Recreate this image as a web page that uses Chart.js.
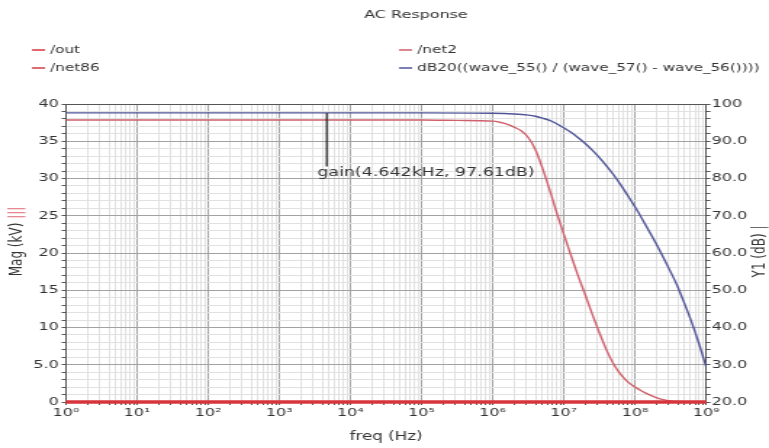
<!DOCTYPE html>
<html>
<head>
<meta charset="utf-8">
<title>AC Response</title>
<script src="https://cdn.jsdelivr.net/npm/chart.js@4.4.1/dist/chart.umd.min.js"></script>
<style>
  html, body { margin: 0; padding: 0; background: #fff; overflow: hidden; }
  /* the original screenshot is stretched sideways, so draw narrow and widen it */
  #acChart { display: block; width: 769px !important; height: 448px !important; }
</style>
</head>
<body>
<canvas id="acChart" width="530" height="448"></canvas>
<script>
const seriesNames = ['/out', '/net86', '/net2', 'dB20((wave_55() / (wave_57() - wave_56())))'];
const seriesColors = ['#d8343c', '#d23a44', '#cf5f6a', '#4f5597'];

// /out and /net86 sit at zero over the whole sweep (Mag axis, kV)
const flatFreq = [1, 1e9];
const outMag = [0, 0];
const net86Mag = [0, 0];

// /net2 magnitude (kV)
const net2Freq = [1, 1e5, 3.16e5, 1e6, 1.26e6, 1.58e6, 2e6, 2.51e6, 3.16e6, 3.98e6, 5.01e6, 6.31e6, 7.94e6,
  1e7, 1.26e7, 1.58e7, 2e7, 2.51e7, 3.16e7, 3.98e7, 5.01e7, 6.31e7, 7.94e7,
  1e8, 1.26e8, 1.58e8, 2e8, 2.51e8, 3.16e8, 3.98e8, 6.31e8, 1e9];
const net2Mag = [37.85, 37.85, 37.8, 37.7, 37.55, 37.3, 36.9, 36.4, 35.5, 33.9, 31.4, 28.5, 25.4,
  22.5, 19.7, 17.0, 14.4, 11.8, 9.3, 7.0, 5.1, 3.7, 2.7,
  2.0, 1.45, 1.0, 0.6, 0.32, 0.15, 0.06, 0.01, 0];

// gain in dB (Y1 axis)
const gainFreq = [1, 1e5, 1e6, 2e6, 3.16e6, 3.98e6, 5.01e6, 6.31e6, 7.94e6,
  1e7, 1.26e7, 1.58e7, 2e7, 2.51e7, 3.16e7, 3.98e7, 5.01e7, 6.31e7, 7.94e7,
  1e8, 1.26e8, 1.58e8, 2e8, 2.51e8, 3.16e8, 3.98e8, 5.01e8, 6.31e8, 7.94e8, 1e9];
const gainDb = [97.61, 97.61, 97.5, 97.3, 97.0, 96.7, 96.2, 95.6, 94.7,
  93.6, 92.4, 91.0, 89.4, 87.6, 85.6, 83.4, 81.0, 78.3, 75.4,
  72.4, 69.2, 65.9, 62.4, 58.8, 55.0, 51.0, 46.3, 41.3, 35.7, 29.5];

// axes
const freqDecades = [1, 10, 1e2, 1e3, 1e4, 1e5, 1e6, 1e7, 1e8, 1e9];
const freqTickLabels = ['10⁰', '10¹', '10²', '10³', '10⁴', '10⁵', '10⁶', '10⁷', '10⁸', '10⁹'];
const magTickValues = [0, 5, 10, 15, 20, 25, 30, 35, 40];
const magTickLabels = ['0', '5.0', '10', '15', '20', '25', '30', '35', '40'];
const dbTickValues = [20, 30, 40, 50, 60, 70, 80, 90, 100];
const dbTickLabels = ['20.0', '30.0', '40.0', '50.0', '60.0', '70.0', '80.0', '90.0', '100'];

// marker placed on the gain curve
const markerLabel = 'gain(4.642kHz, 97.61dB)';
const markerFreq = 4642;
const markerDb = 97.61;
const markerStemEndDb = 83.2;

const inkColor = '#333';
const majorGrid = '#a2a2a2';
const minorGrid = '#e1e1e1';
const axisLine = '#555';
const axisFont = { family: 'DejaVu Sans', size: 11 };

function toPoints(xs, ys) {
  return xs.map((x, i) => ({ x: x, y: ys[i] }));
}

function logMinorTicks() {
  const out = [];
  for (let e = 0; e < 9; e++) {
    for (let d = 1; d <= 9; d++) out.push({ value: d * Math.pow(10, e) });
  }
  out.push({ value: 1e9 });
  return out;
}

function stepTicks(from, to, step) {
  const out = [];
  for (let v = from; v <= to + 1e-9; v += step) out.push({ value: v });
  return out;
}

function drawRotated(ctx, x, y, parts, font) {
  ctx.save();
  ctx.font = font;
  ctx.translate(x, y);
  ctx.rotate(-Math.PI / 2);
  ctx.textBaseline = 'middle';
  ctx.textAlign = 'left';
  const total = parts.reduce((w, p) => w + ctx.measureText(p.text).width, 0);
  let cx = -total / 2;
  parts.forEach(p => {
    ctx.fillStyle = p.color;
    ctx.fillText(p.text, cx, 0);
    cx += ctx.measureText(p.text).width;
  });
  ctx.restore();
}

const decorations = {
  id: 'decorations',
  afterDatasetsDraw(chart) {
    const ctx = chart.ctx;
    const x = chart.scales.x.getPixelForValue(markerFreq);
    const yTop = chart.scales.y1.getPixelForValue(markerDb);
    const yEnd = chart.scales.y1.getPixelForValue(markerStemEndDb);
    ctx.save();
    ctx.strokeStyle = '#2a2a2a';
    ctx.lineWidth = 1.3;
    ctx.beginPath();
    ctx.moveTo(x, yTop);
    ctx.lineTo(x, yEnd);
    ctx.stroke();
    ctx.font = '12px "DejaVu Sans"';
    ctx.fillStyle = inkColor;
    ctx.textBaseline = 'middle';
    ctx.fillText(markerLabel, x - 6.5, yEnd + 6.6);
    ctx.restore();
  },
  afterDraw(chart) {
    const ctx = chart.ctx;
    ctx.save();
    ctx.fillStyle = inkColor;
    ctx.font = '11px "DejaVu Sans"';
    ctx.textAlign = 'center';
    ctx.textBaseline = 'middle';
    ctx.fillText('AC Response', 286.7, 15);

    // legend, two columns of two
    const slots = [[22, 50], [22, 68], [275, 50], [275, 68]];
    ctx.font = '10.5px "DejaVu Sans"';
    ctx.textAlign = 'left';
    chart.data.datasets.forEach((ds, i) => {
      const [lx, ly] = slots[i];
      ctx.strokeStyle = ds.borderColor;
      ctx.lineWidth = 1.5;
      ctx.beginPath();
      ctx.moveTo(lx, ly);
      ctx.lineTo(lx + 9, ly);
      ctx.stroke();
      ctx.fillStyle = inkColor;
      ctx.fillText(ds.label, lx + 12.5, ly);
    });
    ctx.restore();

    drawRotated(ctx, 12, 241.5, [
      { text: 'Mag (kV) ', color: inkColor },
      { text: '|||', color: '#e06a78' }
    ], '12px "DejaVu Sans"');
    drawRotated(ctx, 524, 251.5, [
      { text: 'Y1 (dB) ', color: inkColor },
      { text: '|', color: '#666' }
    ], '12px "DejaVu Sans"');
  }
};

const ctx = document.getElementById('acChart').getContext('2d');

new Chart(ctx, {
  type: 'line',
  data: {
    datasets: [
      { label: seriesNames[0], data: toPoints(flatFreq, outMag), yAxisID: 'y',
        borderColor: seriesColors[0], borderWidth: 3, clip: false },
      { label: seriesNames[1], data: toPoints(flatFreq, net86Mag), yAxisID: 'y',
        borderColor: seriesColors[1], borderWidth: 3, clip: false },
      { label: seriesNames[2], data: toPoints(net2Freq, net2Mag), yAxisID: 'y',
        borderColor: seriesColors[2], borderWidth: 1.4 },
      { label: seriesNames[3], data: toPoints(gainFreq, gainDb), yAxisID: 'y1',
        borderColor: seriesColors[3], borderWidth: 1.4 }
    ]
  },
  options: {
    responsive: false,
    animation: false,
    devicePixelRatio: 1,
    layout: { padding: { top: 104, left: 0, right: 0, bottom: 0 } },
    elements: {
      point: { radius: 0 },
      line: { cubicInterpolationMode: 'monotone' }
    },
    plugins: {
      legend: { display: false },
      tooltip: { enabled: false }
    },
    scales: {
      x: {
        type: 'logarithmic',
        min: 1,
        max: 1e9,
        afterBuildTicks: s => { s.ticks = logMinorTicks(); },
        afterFit: s => { s.height = 46; },
        ticks: {
          autoSkip: false, maxRotation: 0, minRotation: 0, padding: 2,
          font: axisFont, color: inkColor,
          callback: v => {
            const i = freqDecades.indexOf(v);
            return i >= 0 ? freqTickLabels[i] : '';
          }
        },
        grid: {
          color: c => freqDecades.indexOf(c.tick.value) >= 0 ? majorGrid : minorGrid,
          tickLength: 3,
          tickColor: axisLine
        },
        border: { color: axisLine },
        title: {
          display: true, text: 'freq (Hz)', color: inkColor,
          font: { family: 'DejaVu Sans', size: 11.5 },
          padding: { top: 0, bottom: 4 }
        }
      },
      y: {
        type: 'linear',
        position: 'left',
        min: 0,
        max: 40,
        afterBuildTicks: s => { s.ticks = stepTicks(0, 40, 1); },
        afterFit: s => { s.width = 45.5; },
        ticks: {
          autoSkip: false, padding: 2, font: axisFont, color: inkColor,
          callback: v => {
            const i = magTickValues.indexOf(v);
            return i >= 0 ? magTickLabels[i] : '';
          }
        },
        grid: {
          color: c => c.tick.value === 40 ? axisLine
            : (magTickValues.indexOf(c.tick.value) >= 0 ? majorGrid : minorGrid),
          tickLength: 3,
          tickColor: axisLine
        },
        border: { color: axisLine }
      },
      y1: {
        type: 'linear',
        position: 'right',
        min: 20,
        max: 100,
        afterBuildTicks: s => { s.ticks = stepTicks(20, 100, 2); },
        afterFit: s => { s.width = 43.4; },
        ticks: {
          autoSkip: false, padding: 1, font: axisFont, color: inkColor,
          callback: v => {
            const i = dbTickValues.indexOf(v);
            return i >= 0 ? dbTickLabels[i] : '';
          }
        },
        grid: { drawOnChartArea: false, tickLength: 3, tickColor: axisLine },
        border: { color: axisLine }
      }
    }
  },
  plugins: [decorations]
});
</script>
</body>
</html>
